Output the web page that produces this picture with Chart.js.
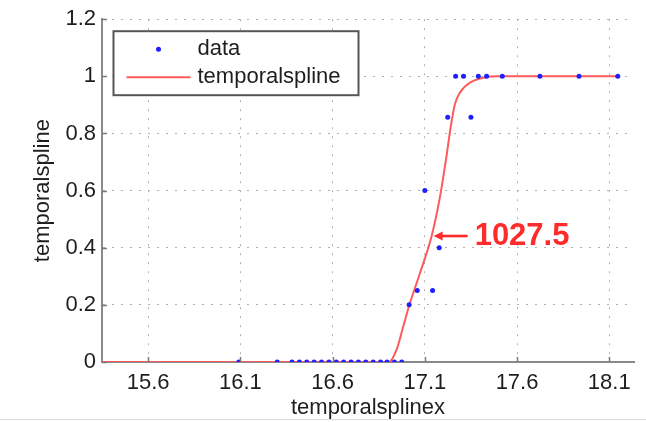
<!DOCTYPE html>
<html>
<head>
<meta charset="utf-8">
<script src="https://cdn.jsdelivr.net/npm/chart.js@4/dist/chart.umd.min.js"></script>
<style>
  html, body { margin: 0; padding: 0; background: #fff; }
  #wrap { position: relative; width: 646px; height: 422px; }
  #edge { position: absolute; left: 0; top: 419px; width: 646px; height: 1px; background: #dcdcdc; }
</style>
</head>
<body>
<div id="wrap">
  <canvas id="c" width="646" height="422"></canvas>
  <div id="edge"></div>
</div>
<script>
// Measured observations
const dataX = [16.092, 16.30, 16.38, 16.42, 16.46, 16.50, 16.54, 16.58, 16.62, 16.66,
               16.70, 16.74, 16.78, 16.82, 16.86, 16.895, 16.935, 16.975,
               17.015, 17.059, 17.142, 17.178, 17.10, 17.224, 17.35,
               17.267, 17.31, 17.39, 17.435, 17.52, 17.724, 17.936, 18.146];
const dataY = [0, 0, 0, 0, 0, 0, 0, 0, 0, 0,
               0, 0, 0, 0, 0, 0, 0, 0,
               0.2, 0.25, 0.25, 0.4, 0.6, 0.857, 0.857,
               1, 1, 1, 1, 1, 1, 1, 1];

// Fitted temporal spline
const splineX = [15.35, 16.50, 16.905, 16.947, 16.983, 17.015, 17.073, 17.137, 17.182, 17.214,
                 17.24, 17.263, 17.29, 17.345, 17.417, 17.50, 17.80, 18.146];
const splineY = [0, 0, 0, 0.043, 0.124, 0.197, 0.31, 0.441, 0.577, 0.705,
                 0.821, 0.902, 0.943, 0.978, 0.995, 1, 1, 1];

// Axis ticks
const xTicks = [15.6, 16.1, 16.6, 17.1, 17.6, 18.1];
const yTicks = [0, 0.2, 0.4, 0.6, 0.8, 1, 1.2];

// Callout on the spline
const calloutX = [17.137];
const calloutY = [0.441];
const calloutText = ['1027.5'];

const FONT = '"Liberation Sans", Arial, Helvetica, sans-serif';
const TEXT = '#1e1e1e';

// Short tick marks pointing into the plot area
const innerTicks = {
  id: 'innerTicks',
  afterDraw(chart) {
    const { ctx, chartArea, scales } = chart;
    ctx.save();
    ctx.strokeStyle = '#7a7a7a';
    ctx.lineWidth = 1.5;
    ctx.beginPath();
    scales.x.ticks.forEach(t => {
      const px = Math.round(scales.x.getPixelForValue(t.value)) + 0.5;
      ctx.moveTo(px, chartArea.bottom);
      ctx.lineTo(px, chartArea.bottom - 5);
    });
    scales.y.ticks.forEach(t => {
      const py = Math.round(scales.y.getPixelForValue(t.value)) + 0.5;
      ctx.moveTo(chartArea.left, py);
      ctx.lineTo(chartArea.left + 5, py);
    });
    ctx.stroke();
    ctx.restore();
  }
};

const legendBox = {
  id: 'legendBox',
  afterDatasetsDraw(chart) {
    const { ctx, chartArea } = chart;
    const x0 = chartArea.left + 11.5, y0 = chartArea.top + 12;
    const w = 245, h = 64;
    ctx.save();
    ctx.fillStyle = '#ffffff';
    ctx.fillRect(x0, y0, w, h);
    ctx.strokeStyle = '#555555';
    ctx.lineWidth = 2;
    ctx.strokeRect(x0, y0, w, h);
    const ds = chart.data.datasets;
    ctx.font = '22px ' + FONT;
    ctx.textBaseline = 'middle';
    ctx.textAlign = 'left';
    // data marker
    ctx.beginPath();
    ctx.fillStyle = ds[0].backgroundColor;
    ctx.arc(x0 + 45, y0 + 18, 2.5, 0, Math.PI * 2);
    ctx.fill();
    ctx.fillStyle = TEXT;
    ctx.fillText(ds[0].label, x0 + 84, y0 + 18);
    // spline sample
    ctx.beginPath();
    ctx.strokeStyle = ds[1].borderColor;
    ctx.lineWidth = 2;
    ctx.moveTo(x0 + 13, y0 + 46);
    ctx.lineTo(x0 + 77, y0 + 46);
    ctx.stroke();
    ctx.fillStyle = TEXT;
    ctx.fillText(ds[1].label, x0 + 84, y0 + 46);
    ctx.restore();
  }
};

const callout = {
  id: 'callout',
  afterDatasetsDraw(chart) {
    const { ctx, scales } = chart;
    ctx.save();
    for (let i = 0; i < calloutX.length; i++) {
      const px = scales.x.getPixelForValue(calloutX[i]) + 2;
      const py = scales.y.getPixelForValue(calloutY[i]);
      ctx.strokeStyle = '#ff2a2a';
      ctx.fillStyle = '#ff2a2a';
      ctx.lineWidth = 2.6;
      ctx.beginPath();
      ctx.moveTo(px + 6, py);
      ctx.lineTo(px + 34, py);
      ctx.stroke();
      ctx.beginPath();
      ctx.moveTo(px, py);
      ctx.lineTo(px + 9, py - 4.5);
      ctx.lineTo(px + 9, py + 4.5);
      ctx.closePath();
      ctx.fill();
      ctx.font = 'bold 31px ' + FONT;
      ctx.textBaseline = 'middle';
      ctx.textAlign = 'left';
      ctx.fillText(calloutText[i], px + 41, py);
    }
    ctx.restore();
  }
};

new Chart(document.getElementById('c'), {
  type: 'scatter',
  data: {
    datasets: [
      {
        label: 'data',
        data: dataX.map((x, i) => ({ x, y: dataY[i] })),
        backgroundColor: '#1f1fff',
        borderWidth: 0,
        pointRadius: 2.5,
        pointHoverRadius: 2.5
      },
      {
        label: 'temporalspline',
        data: splineX.map((x, i) => ({ x, y: splineY[i] })),
        showLine: true,
        borderColor: '#ff5a5a',
        borderWidth: 2,
        pointRadius: 0,
        cubicInterpolationMode: 'monotone',
        fill: false
      }
    ]
  },
  options: {
    responsive: false,
    devicePixelRatio: 1,
    animation: false,
    layout: { padding: { left: 0, right: 12, top: 17.5, bottom: 0 } },
    plugins: { legend: { display: false }, tooltip: { enabled: false } },
    scales: {
      x: {
        type: 'linear',
        min: 15.35,
        max: 18.234,
        afterBuildTicks(scale) { scale.ticks = xTicks.map(v => ({ value: v })); },
        afterFit(scale) { scale.height = 60; },
        ticks: {
          font: { family: FONT, size: 22 },
          color: TEXT,
          padding: 8,
          maxRotation: 0,
          autoSkip: false,
          callback: v => Number(v).toFixed(1)
        },
        grid: { color: '#b0b0b0', lineWidth: 1, drawTicks: false },
        border: { display: true, color: '#8a8a8a', width: 2, dash: [2, 7] },
        title: {
          display: true,
          text: 'temporalsplinex',
          font: { family: FONT, size: 22 },
          color: TEXT,
          padding: { top: 0, bottom: 1 }
        }
      },
      y: {
        min: 0,
        max: 1.2,
        afterBuildTicks(scale) { scale.ticks = yTicks.map(v => ({ value: v })); },
        afterFit(scale) { scale.width = 102; },
        ticks: {
          font: { family: FONT, size: 22 },
          color: TEXT,
          padding: 6,
          callback: v => String(Number(Number(v).toFixed(1)))
        },
        grid: { color: '#b0b0b0', lineWidth: 1, drawTicks: false },
        border: { display: true, color: '#8a8a8a', width: 2, dash: [2, 7] },
        title: {
          display: true,
          text: 'temporalspline',
          font: { family: FONT, size: 22 },
          color: TEXT,
          padding: { top: 30, bottom: 0 }
        }
      }
    }
  },
  plugins: [innerTicks, legendBox, callout]
});
</script>
</body>
</html>
